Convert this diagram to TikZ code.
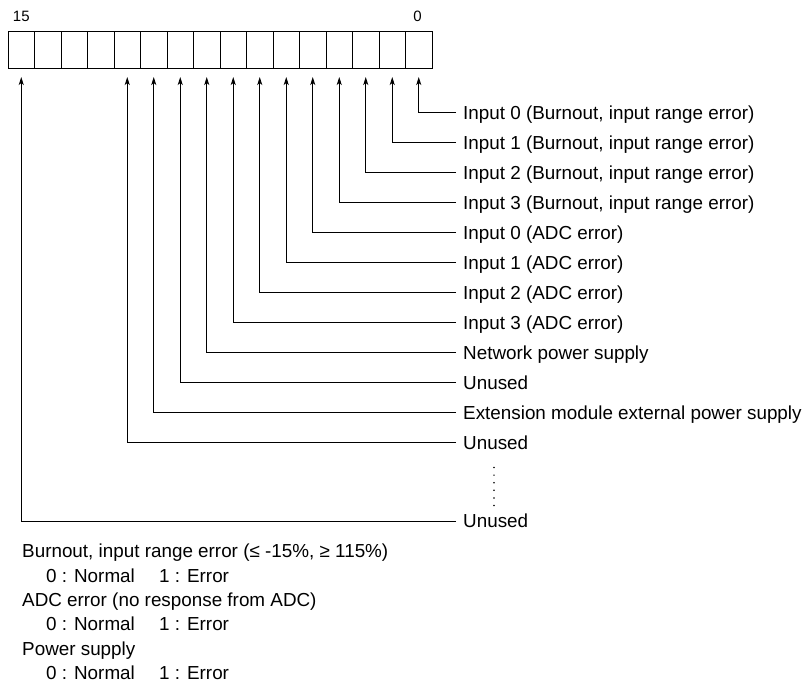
\documentclass[tikz,border=0pt]{standalone}
\usepackage{fontspec}
\setmainfont{Liberation Sans}
\usetikzlibrary{arrows.meta}
\begin{document}
\begin{tikzpicture}[x=1pt,y=-1pt,
  cell/.style={draw,line width=1pt,minimum width=26.5pt,minimum height=37pt,inner sep=0pt,outer sep=0pt},
  lbl/.style={anchor=base west,inner sep=0pt,font=\fontsize{18.85}{22}\selectfont},
  bitnum/.style={inner sep=0pt,font=\fontsize{15}{18}\selectfont},
  arr/.style={line width=0.9pt,-{Stealth[length=8pt,width=5pt,inset=2pt]},shorten >=9pt}]
\useasboundingbox (0,0) rectangle (803,691);
% register cells
\foreach \b in {0,...,15}{
  \node[cell] (c\b) at ({418.75-26.5*\b},49.5) {};
}
\node[bitnum] (n15) at (21.3,16) {15};
\node[bitnum] (n0) at (417.5,16) {0};
% labels and connectors for bits 0..11
\foreach \b/\t in {0/{Input 0 (Burnout, input range error)},
                   1/{Input 1 (Burnout, input range error)},
                   2/{Input 2 (Burnout, input range error)},
                   3/{Input 3 (Burnout, input range error)},
                   4/{Input 0 (ADC error)},
                   5/{Input 1 (ADC error)},
                   6/{Input 2 (ADC error)},
                   7/{Input 3 (ADC error)},
                   8/{Network power supply},
                   9/{Unused},
                   10/{Extension module external power supply},
                   11/{Unused}}{
  \node[lbl] (l\b) at (463,{112.5+30*\b+6.7}) {\t};
  \coordinate (e\b) at (456,{112.5+30*\b});
  \draw[arr] (e\b) -| (c\b.south);
}
% bit 15
\node[lbl] (l15) at (463,{521+6.7}) {Unused};
\coordinate (e15) at (456,521);
\draw[arr] (e15) -| (c15.south);
% vertical ellipsis
\foreach \k in {0,...,5}{
  \fill (494,{467.5+7.6*\k}) circle (0.85);
}
% legend
\node[lbl] (t1) at (22,{551+6.7}) {Burnout, input range error (≤ -15\%, ≥ 115\%)};
\node[lbl] (t2) at (46,{575.4+6.7}) {0 : Normal};
\node[lbl] (t2b) at (159,{575.4+6.7}) {1 : Error};
\node[lbl] (t3) at (22,{599.8+6.7}) {ADC error (no response from ADC)};
\node[lbl] (t4) at (46,{624.2+6.7}) {0 : Normal};
\node[lbl] (t4b) at (159,{624.2+6.7}) {1 : Error};
\node[lbl] (t5) at (22,{648.6+6.7}) {Power supply};
\node[lbl] (t6) at (46,{673+6.7}) {0 : Normal};
\node[lbl] (t6b) at (159,{673+6.7}) {1 : Error};
\end{tikzpicture}
\end{document}
